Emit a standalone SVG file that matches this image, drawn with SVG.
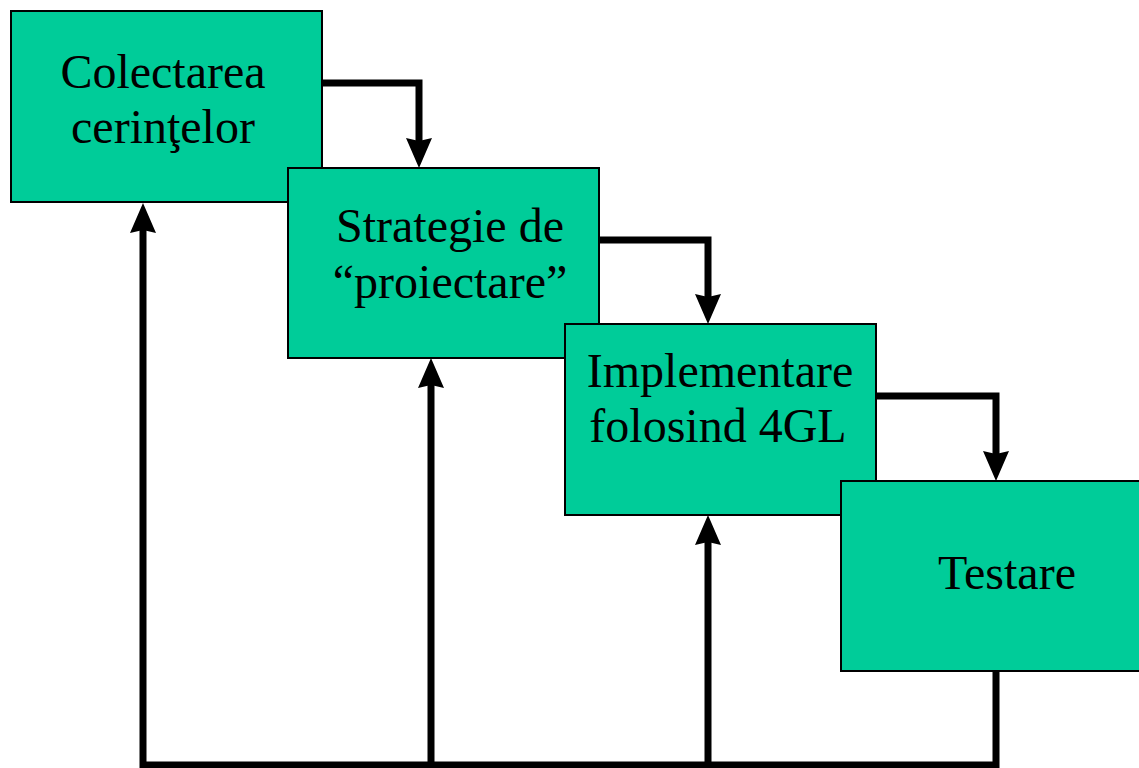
<svg xmlns="http://www.w3.org/2000/svg" width="1139" height="768" viewBox="0 0 1139 768">
<style>
.box{fill:#00CC99;stroke:#000;stroke-width:2}
.lbl{font-family:"Liberation Serif","Times New Roman",serif;font-size:48px;fill:#000;text-anchor:middle}
.con{fill:none;stroke:#000;stroke-width:7;stroke-linejoin:miter}
</style>
<defs>
<marker id="ah" markerUnits="userSpaceOnUse" viewBox="0 0 30 26" refX="3" refY="13" markerWidth="30" markerHeight="26" orient="auto">
<path d="M0,0 L30,13 L0,26 L3,13 z" fill="#000"/>
</marker>
</defs>
<rect width="1139" height="768" fill="#fff"/>
<g id="connectors">
<path class="con" d="M322,83 H419 V141" marker-end="url(#ah)"/>
<path class="con" d="M599,240 H708 V297" marker-end="url(#ah)"/>
<path class="con" d="M876,396 H996 V454" marker-end="url(#ah)"/>
<path class="con" d="M996,671 V765 H143 V230" marker-end="url(#ah)"/>
<path class="con" d="M431,765 V385" marker-end="url(#ah)"/>
<path class="con" d="M708,765 V542" marker-end="url(#ah)"/>
</g>
<g id="node1">
<rect class="box" x="11" y="11" width="311" height="191"/>
<text class="lbl" x="163" y="88">Colectarea</text>
<text class="lbl" x="163" y="143">cerinţelor</text>
</g>
<g id="node2">
<rect class="box" x="288" y="168" width="311" height="190"/>
<text class="lbl" x="450" y="242">Strategie de</text>
<text class="lbl" x="450" y="298">“proiectare”</text>
</g>
<g id="node3">
<rect class="box" x="565" y="324" width="311" height="191"/>
<text class="lbl" x="720" y="387">Implementare</text>
<text class="lbl" x="718" y="442">folosind 4GL</text>
</g>
<g id="node4">
<rect class="box" x="841" y="481" width="311" height="190"/>
<text class="lbl" x="1007" y="589">Testare</text>
</g>
</svg>
